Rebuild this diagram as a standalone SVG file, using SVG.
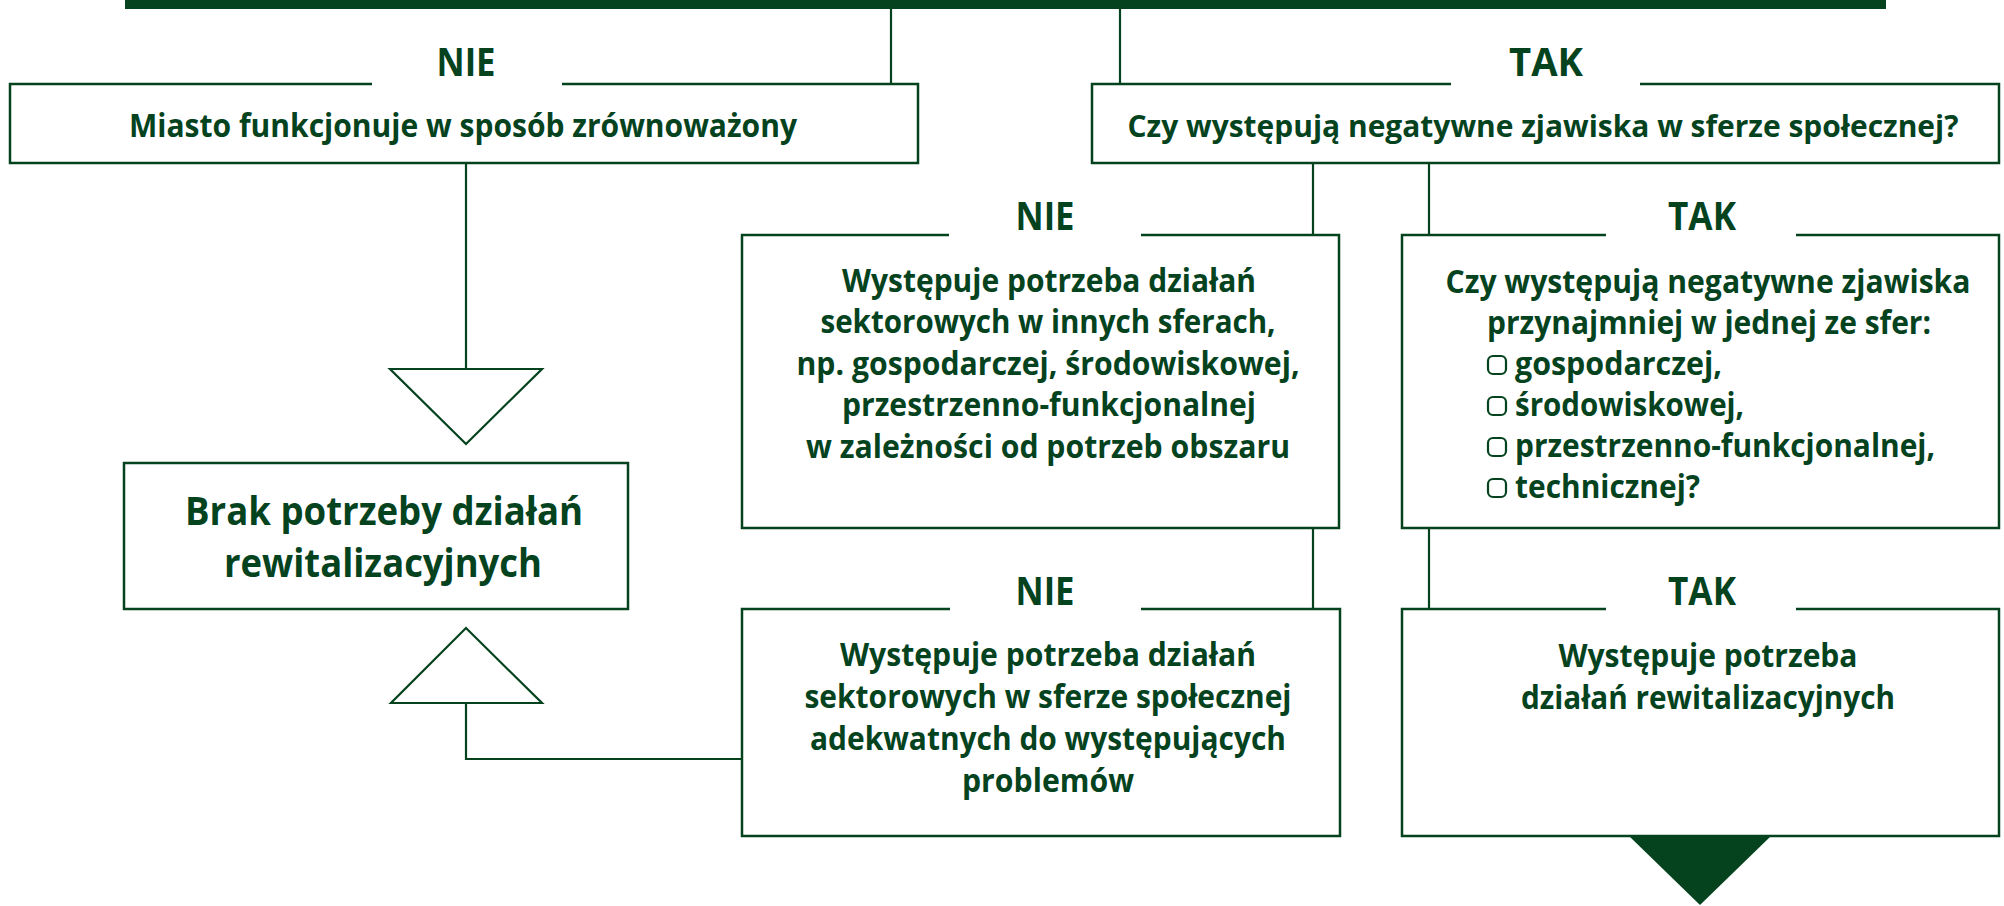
<svg xmlns="http://www.w3.org/2000/svg" width="2004" height="906" viewBox="0 0 2004 906">
<style>
.box{fill:none;stroke:#05431f;stroke-width:2.5;stroke-linejoin:miter}
.ln{fill:none;stroke:#05431f;stroke-width:2.2}
.t{font-family:"Open Sans","Liberation Sans",sans-serif;font-weight:700;fill:#05431f;text-anchor:middle}
.b{font-size:32px}
.s{font-size:30px}
.lab{font-size:40px}
.big{font-size:39px}
.l{text-anchor:start}
.cb{fill:none;stroke:#05431f;stroke-width:2.2}
</style>
<rect width="2004" height="906" fill="#ffffff"/>
<g id="connectors">
<rect x="125" y="0" width="1761" height="9" fill="#05431f"/>
<line class="ln" x1="891" y1="9" x2="891" y2="84"/>
<line class="ln" x1="1120" y1="9" x2="1120" y2="84"/>
<line class="ln" x1="466" y1="163" x2="466" y2="369"/>
<polygon class="ln" points="390,369 542,369 466,444"/>
<line class="ln" x1="1313" y1="163" x2="1313" y2="235"/>
<line class="ln" x1="1429" y1="163" x2="1429" y2="235"/>
<line class="ln" x1="1313" y1="528" x2="1313" y2="609"/>
<line class="ln" x1="1429" y1="528" x2="1429" y2="609"/>
<polyline class="ln" points="742,759 466,759 466,703"/>
<polygon class="ln" points="391,703 542,703 466,628"/>
<polygon points="1629,836 1771,836 1700,905" fill="#05431f"/>
</g>
<g id="node-miasto">
<path class="box" d="M372,84 H10 V163 H918 V84 H562"/>
<text class="t lab" x="466" y="76" textLength="59" lengthAdjust="spacingAndGlyphs">NIE</text>
<text class="t b" x="463" y="137" textLength="668" lengthAdjust="spacingAndGlyphs">Miasto funkcjonuje w sposób zrównoważony</text>
</g>
<g id="node-czy-spoleczne">
<path class="box" d="M1451,84 H1092 V163 H1999 V84 H1640"/>
<text class="t lab" x="1546" y="76" textLength="74" lengthAdjust="spacingAndGlyphs">TAK</text>
<text class="t s" x="1543" y="137" textLength="831" lengthAdjust="spacingAndGlyphs">Czy występują negatywne zjawiska w sferze społecznej?</text>
</g>
<g id="node-brak">
<rect class="box" x="124" y="463" width="504" height="146"/>
<text class="t big" x="384" y="525" textLength="398" lengthAdjust="spacingAndGlyphs">Brak potrzeby działań</text>
<text class="t big" x="383" y="577" textLength="318" lengthAdjust="spacingAndGlyphs">rewitalizacyjnych</text>
</g>
<g id="node-sektorowe-inne">
<path class="box" d="M949,235 H742 V528 H1339 V235 H1141"/>
<text class="t lab" x="1045" y="230" textLength="59" lengthAdjust="spacingAndGlyphs">NIE</text>
<text class="t b" x="1049" y="292" textLength="414" lengthAdjust="spacingAndGlyphs">Występuje potrzeba działań</text>
<text class="t b" x="1048" y="333" textLength="455" lengthAdjust="spacingAndGlyphs">sektorowych w innych sferach,</text>
<text class="t b" x="1048" y="375" textLength="503" lengthAdjust="spacingAndGlyphs">np. gospodarczej, środowiskowej,</text>
<text class="t b" x="1049" y="416" textLength="414" lengthAdjust="spacingAndGlyphs">przestrzenno-funkcjonalnej</text>
<text class="t b" x="1048" y="458" textLength="484" lengthAdjust="spacingAndGlyphs">w zależności od potrzeb obszaru</text>
</g>
<g id="node-czy-sfery">
<path class="box" d="M1606,235 H1402 V528 H1999 V235 H1796"/>
<text class="t lab" x="1702" y="230" textLength="68" lengthAdjust="spacingAndGlyphs">TAK</text>
<text class="t b" x="1708" y="293" textLength="525" lengthAdjust="spacingAndGlyphs">Czy występują negatywne zjawiska</text>
<text class="t b" x="1709" y="334" textLength="444" lengthAdjust="spacingAndGlyphs">przynajmniej w jednej ze sfer:</text>
<rect class="cb" x="1488" y="356" width="18" height="18" rx="5"/>
<text class="t b l" x="1515" y="375" textLength="207" lengthAdjust="spacingAndGlyphs">gospodarczej,</text>
<rect class="cb" x="1488" y="397" width="18" height="18" rx="5"/>
<text class="t b l" x="1515" y="416" textLength="229" lengthAdjust="spacingAndGlyphs">środowiskowej,</text>
<rect class="cb" x="1488" y="438" width="18" height="18" rx="5"/>
<text class="t b l" x="1515" y="457" textLength="420" lengthAdjust="spacingAndGlyphs">przestrzenno-funkcjonalnej,</text>
<rect class="cb" x="1488" y="479" width="18" height="18" rx="5"/>
<text class="t b l" x="1515" y="498" textLength="185" lengthAdjust="spacingAndGlyphs">technicznej?</text>
</g>
<g id="node-sektorowe-spoleczne">
<path class="box" d="M950,609 H742 V836 H1340 V609 H1141"/>
<text class="t lab" x="1045" y="605" textLength="59" lengthAdjust="spacingAndGlyphs">NIE</text>
<text class="t b" x="1048" y="666" textLength="416" lengthAdjust="spacingAndGlyphs">Występuje potrzeba działań</text>
<text class="t b" x="1048" y="708" textLength="487" lengthAdjust="spacingAndGlyphs">sektorowych w sferze społecznej</text>
<text class="t b" x="1048" y="750" textLength="476" lengthAdjust="spacingAndGlyphs">adekwatnych do występujących</text>
<text class="t b" x="1048" y="792" textLength="172" lengthAdjust="spacingAndGlyphs">problemów</text>
</g>
<g id="node-rewitalizacja">
<path class="box" d="M1606,609 H1402 V836 H1999 V609 H1796"/>
<text class="t lab" x="1702" y="605" textLength="68" lengthAdjust="spacingAndGlyphs">TAK</text>
<text class="t b" x="1708" y="667" textLength="299" lengthAdjust="spacingAndGlyphs">Występuje potrzeba</text>
<text class="t b" x="1708" y="709" textLength="374" lengthAdjust="spacingAndGlyphs">działań rewitalizacyjnych</text>
</g>
</svg>
